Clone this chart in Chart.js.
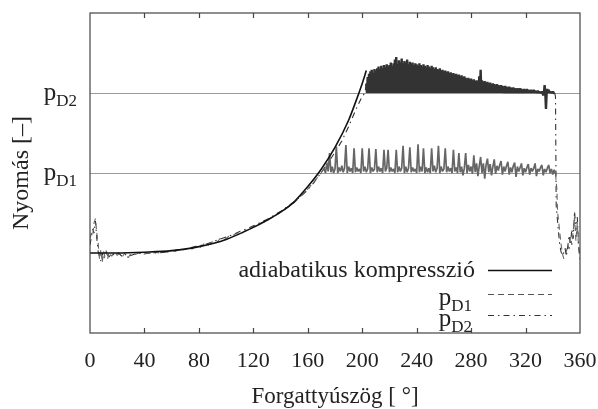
<!DOCTYPE html>
<html>
<head>
<meta charset="utf-8">
<script src="https://cdn.jsdelivr.net/npm/chart.js@4.4.1/dist/chart.umd.min.js"></script>
<style>
  html, body { margin: 0; padding: 0; background: #fff; }
  #wrap { width: 598px; height: 409px; position: relative; }
</style>
</head>
<body>
<div id="wrap"><canvas id="pressureChart"></canvas></div>
<script>
// axis ticks
const xTicks = [0, 40, 80, 120, 160, 200, 240, 280, 320, 360];
const yTicks = [2, 3];
const yTickSubs = ['D1', 'D2'];
const pD2Level = 3;

// adiabatic compression (smooth)
const adiaAngle = [0, 20, 40, 60, 80, 100, 120, 130, 140, 150, 160, 170, 180, 190, 195, 200, 203];
const adiaP = [1.00, 1.00, 1.01, 1.03, 1.08, 1.17, 1.32, 1.41, 1.51, 1.64, 1.83, 2.05, 2.32, 2.66, 2.88, 3.12, 3.28];

// pD1 measured curve: compression part
const pD1Rise = [
  [0,1.18],[1,1.25],[2,1.22],[3,1.38],[4,1.43],[5,1.25],[6,1.12],[7,0.92],[8,1.04],[9,0.88],
  [10,1.02],[11,0.95],[12,1.03],[13,0.93],[14,1.01],[16,0.96],[18,1.02],[20,0.97],[22,1.00],[24,0.96],
  [26,1.01],[28,0.94],[30,0.99],[33,0.98],[36,1.00],[39,0.98],[42,1.00],[45,0.99],[48,1.01],[51,1.00],
  [54,1.02],[57,1.01],[60,1.03],[63,1.02],[66,1.05],[69,1.04],[72,1.06],[75,1.05],[78,1.09],[81,1.07],
  [84,1.12],[87,1.10],[90,1.14],[93,1.13],[96,1.19],[99,1.17],[102,1.21],[105,1.22],[108,1.25],[111,1.24],
  [114,1.28],[117,1.29],[120,1.33],[123,1.34],[126,1.38],[129,1.39],[132,1.43],[135,1.45],[138,1.49],[141,1.52],
  [144,1.56],[147,1.59],[150,1.63],[153,1.68],[156,1.73],[159,1.78],[162,1.84],[165,1.90],[168,1.96],[171,2.03]
];
// pD1 spiky part, one value per degree from 172 to 342
const pD1SpikeStart = 172;
const pD1Spikes = [
  2.05,2.00,2.12,2.02,2.25,2.01,2.08,2.00,2.05,2.33, 2.00,2.07,2.02,2.09,2.01,2.06,2.35,2.00,2.08,2.02,
  2.06,2.00,2.31,2.01,2.07,2.02,2.05,2.00,2.31,2.02, 2.08,2.01,2.05,2.31,2.00,2.07,2.02,2.05,2.30,2.01,
  2.08,2.02,2.06,2.00,2.29,2.02,2.06,2.29,2.01,2.07, 2.02,2.05,2.00,2.29,2.01,2.08,2.02,2.06,2.34,2.00,
  2.08,2.01,2.06,2.32,2.01,2.07,2.02,2.05,2.00,2.36, 2.01,2.08,2.02,2.31,2.00,2.07,2.01,2.06,2.00,2.31,
  2.02,2.09,2.01,2.06,2.34,2.00,2.08,2.02,2.05,2.31, 2.01,2.08,2.02,2.06,2.00,2.29,2.02,2.07,2.00,2.25,
  2.01,2.08,1.97,2.06,2.25,2.00,2.10,2.02,2.08,1.99, 2.22,2.01,2.12,1.96,2.09,2.20,2.00,2.12,1.93,2.10,
  2.18,2.01,2.11,1.97,2.08,2.17,1.99,2.09,2.03,2.10, 2.15,1.98,2.08,2.02,2.09,2.14,1.98,2.07,2.01,2.09,
  2.13,1.95,2.08,2.02,2.07,2.12,1.97,2.06,2.01,2.07, 2.11,1.98,2.06,2.02,2.06,2.12,1.96,2.05,2.02,2.07,
  2.10,1.97,2.05,2.01,2.06,2.10,2.00,2.05,1.98,2.04, 1.99
];
const pD1Drop = [
  [343,1.80],[343.5,1.52],[345,1.28],[346,1.12],[347,1.00],[348,0.93],[349,0.95],[350,1.02],[351,1.10],
  [352,1.05],[353,1.20],[354,1.10],[355,1.28],[356,1.45],[357,1.15],[358,1.38],[359,1.05],[360,0.92]
];

// pD2 measured curve: compression part
const pD2Rise = [
  [0,1.10],[1,1.20],[2,1.30],[3,1.25],[4,1.40],[5,1.18],[6,1.02],[7,0.95],[8,0.90],[9,1.00],
  [10,0.93],[12,0.99],[14,0.95],[16,1.00],[18,0.97],[21,1.00],[24,0.95],[27,0.99],[30,0.97],[35,1.00],
  [40,0.99],[45,1.00],[50,1.00],[55,1.01],[60,1.03],[65,1.04],[70,1.05],[75,1.07],[80,1.09],[85,1.11],
  [90,1.14],[95,1.17],[100,1.20],[105,1.23],[110,1.27],[115,1.30],[120,1.34],[125,1.38],[130,1.42],[135,1.47],
  [140,1.52],[145,1.58],[150,1.64],[155,1.71],[160,1.79],[165,1.89],[170,2.01],[175,2.13],[180,2.26],[185,2.40],
  [190,2.58],[195,2.78],[200,2.96],[202,3.00]
];
// pD2 band: peak value per degree from 203 to 341, swinging back to the pD2 level
const pD2BandStart = 203;
const pD2BandPeaks = [
  3.12,3.20,3.24,3.27,3.29,3.25,3.30,3.28,3.31,3.33, 3.30,3.34,3.31,3.35,3.32,3.36,3.33,3.35,3.38,3.34,
  3.37,3.42,3.45,3.36,3.41,3.38,3.43,3.37,3.40,3.38, 3.42,3.36,3.39,3.37,3.38,3.35,3.37,3.36,3.34,3.37,
  3.35,3.33,3.36,3.34,3.32,3.35,3.33,3.31,3.34,3.32, 3.30,3.32,3.30,3.29,3.31,3.28,3.29,3.27,3.28,3.26,
  3.27,3.25,3.26,3.24,3.25,3.23,3.24,3.22,3.23,3.21, 3.22,3.20,3.21,3.19,3.18,3.19,3.17,3.18,3.16,3.17,
  3.15,3.16,3.15,3.21,3.29,3.16,3.14,3.15,3.13,3.14, 3.12,3.13,3.11,3.12,3.11,3.10,3.11,3.10,3.09,3.10,
  3.09,3.08,3.09,3.08,3.07,3.08,3.07,3.06,3.07,3.06, 3.05,3.06,3.05,3.06,3.05,3.04,3.05,3.04,3.05,3.04,
  3.03,3.04,3.03,3.04,3.03,3.02,3.03,3.02,3.01,3.02, 2.97,3.10,2.80,3.05,3.04,3.02,3.01,3.02,3.00
];
const pD2Drop = [
  [342,2.95],[342.5,1.60],[344,1.30],[345,1.12],[346,1.02],[347,0.97],[348,1.00],[349,1.06],[350,0.96],
  [351,1.08],[352,1.22],[353,1.10],[354,1.30],[355,1.18],[356,1.52],[357,1.28],[358,1.45],[359,1.08],[360,0.95]
];

const serif = '"Liberation Serif", "DejaVu Serif", serif';
const dash1 = [6, 4];
const dash2 = [6, 4, 1.5, 4];

// build point lists for the library
const adiaData = adiaAngle.map((a, i) => ({ x: a, y: adiaP[i] }));
const pD1Data = pD1Rise.map(p => ({ x: p[0], y: p[1] }))
  .concat(pD1Spikes.map((v, i) => ({ x: pD1SpikeStart + i, y: v })))
  .concat(pD1Drop.map(p => ({ x: p[0], y: p[1] })));
const pD2Data = pD2Rise.map(p => ({ x: p[0], y: p[1] }));
pD2BandPeaks.forEach((v, i) => {
  pD2Data.push({ x: pD2BandStart + i, y: v });
  pD2Data.push({ x: pD2BandStart + i + 0.5, y: pD2Level });
});
pD2Drop.forEach(p => pD2Data.push({ x: p[0], y: p[1] }));

const inSpikes = c => c.p0.parsed.x >= 171.5 && c.p1.parsed.x <= 342.5;
const inBand = c => c.p0.parsed.x >= 202.5 && c.p1.parsed.x <= 341.6;

// frame, inward ticks, y labels with subscripts, legend
const decor = {
  id: 'decor',
  afterDraw(chart) {
    const { ctx, chartArea: a, scales: { x, y } } = chart;
    ctx.save();
    ctx.strokeStyle = '#444';
    ctx.lineWidth = 1.2;
    ctx.strokeRect(a.left, a.top, a.right - a.left, a.bottom - a.top);
    ctx.beginPath();
    xTicks.forEach(v => {
      if (v === xTicks[0] || v === xTicks[xTicks.length - 1]) return;
      const px = Math.round(x.getPixelForValue(v)) + 0.5;
      ctx.moveTo(px, a.bottom); ctx.lineTo(px, a.bottom - 5);
      ctx.moveTo(px, a.top); ctx.lineTo(px, a.top + 5);
    });
    ctx.stroke();

    function pSub(sub, right, base) {
      ctx.fillStyle = '#222';
      ctx.textBaseline = 'alphabetic';
      ctx.textAlign = 'left';
      ctx.font = '17px ' + serif;
      const ws = ctx.measureText(sub).width;
      ctx.font = '25px ' + serif;
      const wp = ctx.measureText('p').width;
      ctx.fillText('p', right - ws - wp, base);
      ctx.font = '17px ' + serif;
      ctx.fillText(sub, right - ws, base + 5.5);
    }
    yTicks.forEach((v, i) => {
      const py = y.getPixelForValue(v);
      pSub(yTickSubs[i], 77, py + 7);
    });

    // legend
    ctx.fillStyle = '#222';
    ctx.font = '24px ' + serif;
    ctx.textAlign = 'right';
    ctx.fillText('adiabatikus kompresszió', 475, 277);
    pSub('D1', 472, 305);
    pSub('D2', 472, 326);
    const rows = [[270, '#111', [], 1.5], [294, '#555', dash1, 1.2], [315, '#333', dash2, 1.2]];
    rows.forEach(r => {
      ctx.beginPath();
      ctx.strokeStyle = r[1];
      ctx.lineWidth = r[3];
      ctx.setLineDash(r[2]);
      ctx.moveTo(488, r[0] + 0.5);
      ctx.lineTo(552, r[0] + 0.5);
      ctx.stroke();
    });
    ctx.restore();
  }
};

new Chart(document.getElementById('pressureChart'), {
  type: 'line',
  data: {
    datasets: [{
      label: 'adiabatikus kompresszió',
      data: adiaData,
      borderColor: '#111',
      borderWidth: 1.6,
      pointRadius: 0,
      cubicInterpolationMode: 'monotone'
    }, {
      label: 'pD1',
      data: pD1Data,
      borderColor: '#666',
      borderWidth: 1.1,
      borderJoinStyle: 'bevel',
      pointRadius: 0,
      borderDash: dash1,
      segment: {
        borderDash: c => inSpikes(c) ? [] : dash1,
        borderWidth: c => inSpikes(c) ? 1.7 : 1.1
      }
    }, {
      label: 'pD2',
      data: pD2Data,
      borderColor: '#333',
      borderWidth: 1.1,
      borderJoinStyle: 'bevel',
      pointRadius: 0,
      borderDash: dash2,
      segment: {
        borderDash: c => inBand(c) ? [] : dash2,
        borderWidth: c => inBand(c) ? 2.4 : 1.1
      }
    }]
  },
  options: {
    responsive: true,
    maintainAspectRatio: false,
    animation: false,
    layout: { padding: { left: 0, right: 18, top: 13, bottom: 0 } },
    plugins: { legend: { display: false }, tooltip: { enabled: false } },
    scales: {
      x: {
        type: 'linear',
        min: 0,
        max: 360,
        afterBuildTicks: s => { s.ticks = xTicks.map(v => ({ value: v })); },
        afterFit: s => { s.height = 76; s.paddingLeft = 0; s.paddingRight = 0; },
        grid: { display: false, drawTicks: false },
        border: { display: false },
        ticks: { color: '#222', font: { family: serif, size: 22 }, padding: 15, maxRotation: 0, autoSkip: false },
        title: { display: true, text: 'Forgattyúszög [ °]', color: '#222', font: { family: serif, size: 23 }, padding: { top: 0, bottom: -2 } }
      },
      y: {
        min: 0,
        max: 4,
        afterBuildTicks: s => { s.ticks = yTicks.map(v => ({ value: v })); },
        afterFit: s => { s.width = 90; },
        grid: { color: '#9a9a9a', lineWidth: 1, drawTicks: false },
        border: { display: false },
        ticks: { display: false },
        title: { display: true, text: 'Nyomás [–]', color: '#222', font: { family: serif, size: 24 }, padding: { top: 7, bottom: 0 } }
      }
    }
  },
  plugins: [decor]
});
</script>
</body>
</html>
